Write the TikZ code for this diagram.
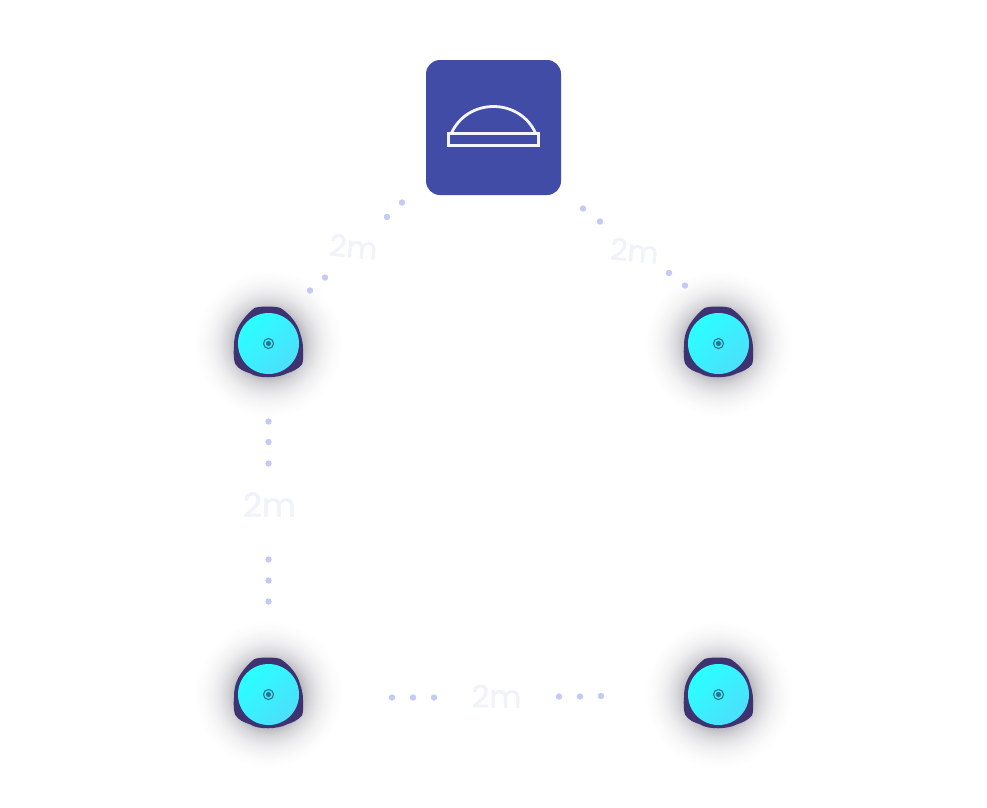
\documentclass[tikz,border=0pt]{standalone}
\usepackage{fontspec}
\setmainfont{Poppins}[FakeBold=1.5]
\definecolor{hubblue}{HTML}{414CA6}
\definecolor{blobpurple}{HTML}{3F3270}
\definecolor{dotblue}{HTML}{C4C9F5}
\definecolor{labelpale}{HTML}{F1F3FB}
\definecolor{iconwhite}{HTML}{F4F4FB}
\definecolor{targetblue}{HTML}{2A7390}
\definecolor{faceA}{HTML}{2AFFFF}
\definecolor{faceB}{HTML}{4CDFFB}
\definecolor{glowtint}{HTML}{2C2C40}
\pgfdeclareradialshading{glowshade}{\pgfpoint{0bp}{0bp}}{%
  color(0bp)=(glowtint!40!white);
  color(11.5bp)=(glowtint!32!white);
  color(14bp)=(glowtint!19!white);
  color(17bp)=(glowtint!10!white);
  color(19bp)=(glowtint!6!white);
  color(22bp)=(glowtint!2!white);
  color(25bp)=(white);
  color(50bp)=(white)}
\tikzset{
  x=1pt,y=-1pt,
  hub/.style={draw=none,fill=hubblue,rounded corners=14pt,minimum width=135pt,minimum height=135pt,inner sep=0pt},
  iconline/.style={draw=iconwhite,line width=2.8pt},
  face/.style={circle,minimum size=61pt,inner sep=0pt,shade,left color=faceA,right color=faceB,shading angle=45},
  tick/.style={fill=dotblue,circle,minimum size=6.4pt,inner sep=0pt},
  dist/.style={text=labelpale,inner sep=0pt},
}
\newcommand{\sensorat}[3]{%
  \begin{scope}[shift={(#2,#3)}]
    \shade[shading=glowshade] (0,0) circle[radius=74pt];
    \fill[blobpurple] (-14,-35.5) .. controls (-9,-37.5) and (7,-37.5) .. (12,-35.5) .. controls (19,-31) and (26,-24) .. (30,-15) .. controls (32,-9) and (34.5,-3) .. (34.5,5) .. controls (34.8,11) and (35,17) .. (33.5,21) .. controls (29,26) and (24,28) .. (18,30) .. controls (10,34.5) and (-10,35.5) .. (-18,30) .. controls (-24,28) and (-30,26) .. (-33.5,20) .. controls (-35,15) and (-35,9) .. (-34.5,3) .. controls (-34.5,-6) and (-33,-11) .. (-30,-17) .. controls (-26,-24) and (-20,-31) .. (-14,-35.5) -- cycle;
  \end{scope}
  \node[face] (#1) at (#2,#3) {};
  \draw[targetblue,line width=1.1pt] (#1.center) circle[radius=5pt];
  \fill[targetblue] (#1.center) circle[radius=2.6pt];
}
\begin{document}
\begin{tikzpicture}
\useasboundingbox (0,0) rectangle (987,807);
\fill[white] (0,0) rectangle (987,807);
\sensorat{sa}{268.5}{343.5}
\sensorat{sb}{718.5}{343.5}
\sensorat{sc}{268.5}{694.5}
\sensorat{sd}{718.5}{694.5}
\node[hub] (hub) at (493.5,127.5) {};
\draw[iconline] (448.5,133.5) rectangle (538.5,145.5);
\draw[iconline] (451.5,133) .. controls (459,116.5) and (475.3,106.5) .. (493.5,106.5) .. controls (511.7,106.5) and (528,116.5) .. (535.5,133);
\foreach \n/\px/\py in {a/402/202.5,b/387/217,c/325/277.5,d/310/290.5,e/583/208.5,f/600/221.5,g/669/273,h/685/285.5,i/268.5/421.5,j/268.5/442,k/268.5/463.5,l/268.5/559.5,m/268.5/580.5,n/268.5/601.5,o/392/697.5,p/413/697.5,q/434/697.5,r/559/696.5,s/580/696.5,t/601/696}
  \node[tick] (tick\n) at (\px,\py) {};
\node[dist,rotate=-5,font=\fontsize{30pt}{30pt}\selectfont] (la) at (353.5,246.5) {2m};
\node[dist,rotate=-5,font=\fontsize{30pt}{30pt}\selectfont] (lb) at (634.5,250.5) {2m};
\node[dist,font=\fontsize{33pt}{33pt}\selectfont] (lc) at (269.5,504.5) {2m};
\node[dist,font=\fontsize{31pt}{31pt}\selectfont] (ld) at (496.5,696) {2m};
\end{tikzpicture}
\end{document}
